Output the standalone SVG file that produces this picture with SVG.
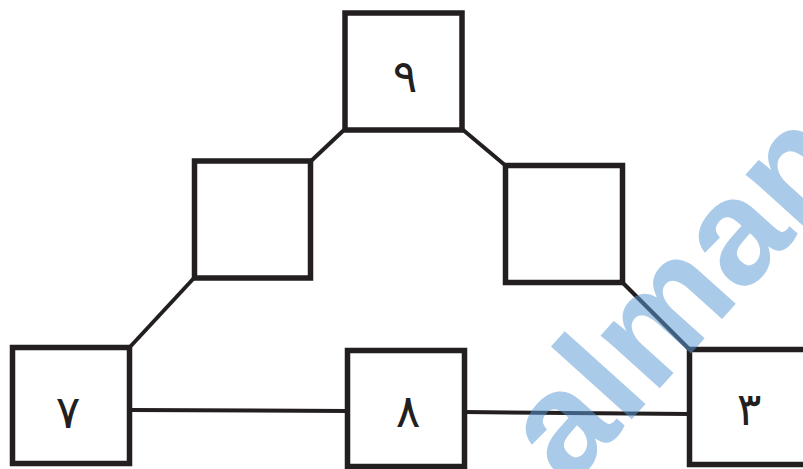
<svg xmlns="http://www.w3.org/2000/svg" width="803" height="469" viewBox="0 0 803 469">
<style>
.box{fill:#fff;stroke:#231f20;stroke-width:5.5}
.con{stroke:#231f20;stroke-width:4;fill:none}
.lbl{font-family:"DejaVu Sans","Noto Sans",sans-serif;font-size:46px;fill:#231f20;text-anchor:middle}
.wm{font-family:"Liberation Sans",Arial,sans-serif;font-weight:bold;font-size:150px;fill:#5b9bd5;opacity:0.52}
</style>
<rect width="803" height="469" fill="#fff"/>
<g id="connectors">
<line class="con" x1="345" y1="129" x2="310" y2="162"/>
<line class="con" x1="462" y1="129" x2="506" y2="166"/>
<line class="con" x1="194" y1="278" x2="129" y2="348"/>
<line class="con" x1="622" y1="282" x2="690" y2="350"/>
<line class="con" x1="129" y1="410" x2="348" y2="411"/>
<line class="con" x1="464" y1="412" x2="690" y2="414"/>
</g>
<g id="n9"><rect class="box" x="345" y="13" width="117" height="117"/><text class="lbl" x="405" y="92">٩</text></g>
<g id="nL"><rect class="box" x="194.5" y="161" width="116" height="117"/></g>
<g id="nR"><rect class="box" x="505.5" y="165.5" width="117" height="117"/></g>
<g id="n7"><rect class="box" x="12.5" y="347.5" width="117" height="116"/><text class="lbl" x="68" y="428">٧</text></g>
<g id="n8"><rect class="box" x="347.5" y="350.5" width="117" height="116"/><text class="lbl" x="408" y="427">٨</text></g>
<g id="n3"><rect class="box" x="689.5" y="349.5" width="130" height="115"/><text class="lbl" x="749" y="425">٣</text></g>
<text class="wm" transform="translate(569,489) rotate(-48)">alman</text>
</svg>
